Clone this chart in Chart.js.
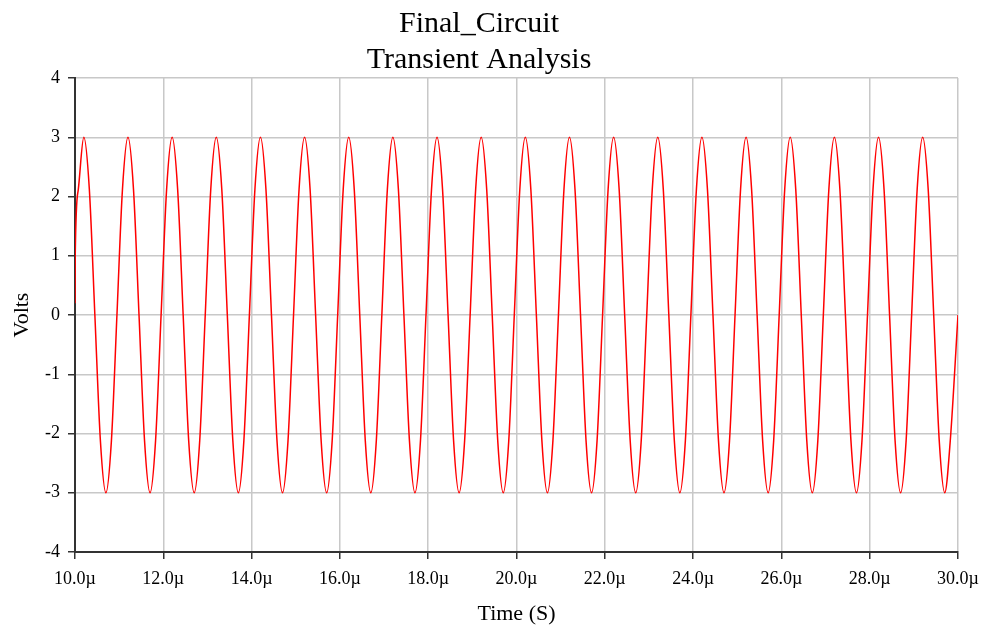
<!DOCTYPE html>
<html>
<head>
<meta charset="utf-8">
<script src="https://cdn.jsdelivr.net/npm/chart.js@4"></script>
<style>
  html, body { margin: 0; padding: 0; background: #ffffff; }
  #wrap { width: 984px; height: 629px; }
</style>
</head>
<body>
<div id="wrap"><canvas id="transient"></canvas></div>
<script>
// sample times (µs)
const timeUs = [
  10.0, 10.005,
  10.075, 10.2, 10.325, 10.45, 10.575, 10.7, 10.825, 10.95,
  11.075, 11.2, 11.325, 11.45, 11.575, 11.7, 11.825, 11.95,
  12.075, 12.2, 12.325, 12.45, 12.575, 12.7, 12.825, 12.95,
  13.075, 13.2, 13.325, 13.45, 13.575, 13.7, 13.825, 13.95,
  14.075, 14.2, 14.325, 14.45, 14.575, 14.7, 14.825, 14.95,
  15.075, 15.2, 15.325, 15.45, 15.575, 15.7, 15.825, 15.95,
  16.075, 16.2, 16.325, 16.45, 16.575, 16.7, 16.825, 16.95,
  17.075, 17.2, 17.325, 17.45, 17.575, 17.7, 17.825, 17.95,
  18.075, 18.2, 18.325, 18.45, 18.575, 18.7, 18.825, 18.95,
  19.075, 19.2, 19.325, 19.45, 19.575, 19.7, 19.825, 19.95,
  20.075, 20.2, 20.325, 20.45, 20.575, 20.7, 20.825, 20.95,
  21.075, 21.2, 21.325, 21.45, 21.575, 21.7, 21.825, 21.95,
  22.075, 22.2, 22.325, 22.45, 22.575, 22.7, 22.825, 22.95,
  23.075, 23.2, 23.325, 23.45, 23.575, 23.7, 23.825, 23.95,
  24.075, 24.2, 24.325, 24.45, 24.575, 24.7, 24.825, 24.95,
  25.075, 25.2, 25.325, 25.45, 25.575, 25.7, 25.825, 25.95,
  26.075, 26.2, 26.325, 26.45, 26.575, 26.7, 26.825, 26.95,
  27.075, 27.2, 27.325, 27.45, 27.575, 27.7, 27.825, 27.95,
  28.075, 28.2, 28.325, 28.45, 28.575, 28.7, 28.825, 28.95,
  29.075, 29.2, 29.325, 29.45, 29.575, 29.7, 29.825, 30.0
];

// node voltage (V) at each sample
const volts = [
  0.2, 1.0,
  2.12, 3, 2.12, 0, -2.12, -3, -2.12, 0,
  2.12, 3, 2.12, 0, -2.12, -3, -2.12, 0,
  2.12, 3, 2.12, 0, -2.12, -3, -2.12, 0,
  2.12, 3, 2.12, 0, -2.12, -3, -2.12, 0,
  2.12, 3, 2.12, 0, -2.12, -3, -2.12, 0,
  2.12, 3, 2.12, 0, -2.12, -3, -2.12, 0,
  2.12, 3, 2.12, 0, -2.12, -3, -2.12, 0,
  2.12, 3, 2.12, 0, -2.12, -3, -2.12, 0,
  2.12, 3, 2.12, 0, -2.12, -3, -2.12, 0,
  2.12, 3, 2.12, 0, -2.12, -3, -2.12, 0,
  2.12, 3, 2.12, 0, -2.12, -3, -2.12, 0,
  2.12, 3, 2.12, 0, -2.12, -3, -2.12, 0,
  2.12, 3, 2.12, 0, -2.12, -3, -2.12, 0,
  2.12, 3, 2.12, 0, -2.12, -3, -2.12, 0,
  2.12, 3, 2.12, 0, -2.12, -3, -2.12, 0,
  2.12, 3, 2.12, 0, -2.12, -3, -2.12, 0,
  2.12, 3, 2.12, 0, -2.12, -3, -2.12, 0,
  2.12, 3, 2.12, 0, -2.12, -3, -2.12, 0,
  2.12, 3, 2.12, 0, -2.12, -3, -2.12, 0,
  2.12, 3, 2.12, 0, -2.12, -3, -2.12, 0
];

const titleLines = ['Final_Circuit', 'Transient Analysis'];
const xRange = [10, 30];
const yRange = [-4, 4];

const serif = "'Liberation Serif', 'DejaVu Serif', serif";

const ctx = document.getElementById('transient').getContext('2d');
const chart = new Chart(ctx, {
  type: 'line',
  data: {
    datasets: [{
      label: 'V',
      data: timeUs.map((t, i) => ({ x: t, y: volts[i] })),
      borderColor: '#ff0000',
      borderWidth: 1.5,
      pointRadius: 0,
      cubicInterpolationMode: 'monotone',
      fill: false
    }]
  },
  options: {
    responsive: true,
    maintainAspectRatio: false,
    animation: false,
    layout: { padding: { left: 0, right: 26, top: 0, bottom: 0 } },
    plugins: {
      legend: { display: false },
      tooltip: { enabled: false },
      title: {
        display: true,
        text: titleLines,
        color: '#000000',
        font: { family: serif, size: 30, weight: 'normal', lineHeight: 1.2 },
        padding: { top: 6, bottom: 0 }
      }
    },
    scales: {
      x: {
        type: 'linear',
        min: xRange[0],
        max: xRange[1],
        afterFit: (s) => { s.height = 77; s.paddingLeft = 0; s.paddingRight = 0; },
        ticks: {
          stepSize: 2,
          color: '#000000',
          padding: 9,
          maxRotation: 0,
          font: { family: serif, size: 18 },
          callback: (v) => v.toFixed(1) + 'µ'
        },
        grid: { color: '#c8c8c8', lineWidth: 1.5, tickColor: '#333333', tickLength: 7 },
        border: { color: '#333333', width: 2 },
        title: {
          display: true,
          text: 'Time (S)',
          color: '#000000',
          font: { family: serif, size: 22 },
          padding: { top: 2, bottom: 2 }
        }
      },
      y: {
        min: yRange[0],
        max: yRange[1],
        afterFit: (s) => { s.width = 75; },
        ticks: {
          stepSize: 1,
          color: '#000000',
          padding: 8,
          font: { family: serif, size: 18 }
        },
        grid: { color: '#c8c8c8', lineWidth: 1.5, tickColor: '#333333', tickLength: 7 },
        border: { color: '#333333', width: 2 },
        title: {
          display: true,
          text: 'Volts',
          color: '#000000',
          font: { family: serif, size: 22 },
          padding: { top: 9, bottom: 8 }
        }
      }
    }
  }
});
</script>
</body>
</html>
